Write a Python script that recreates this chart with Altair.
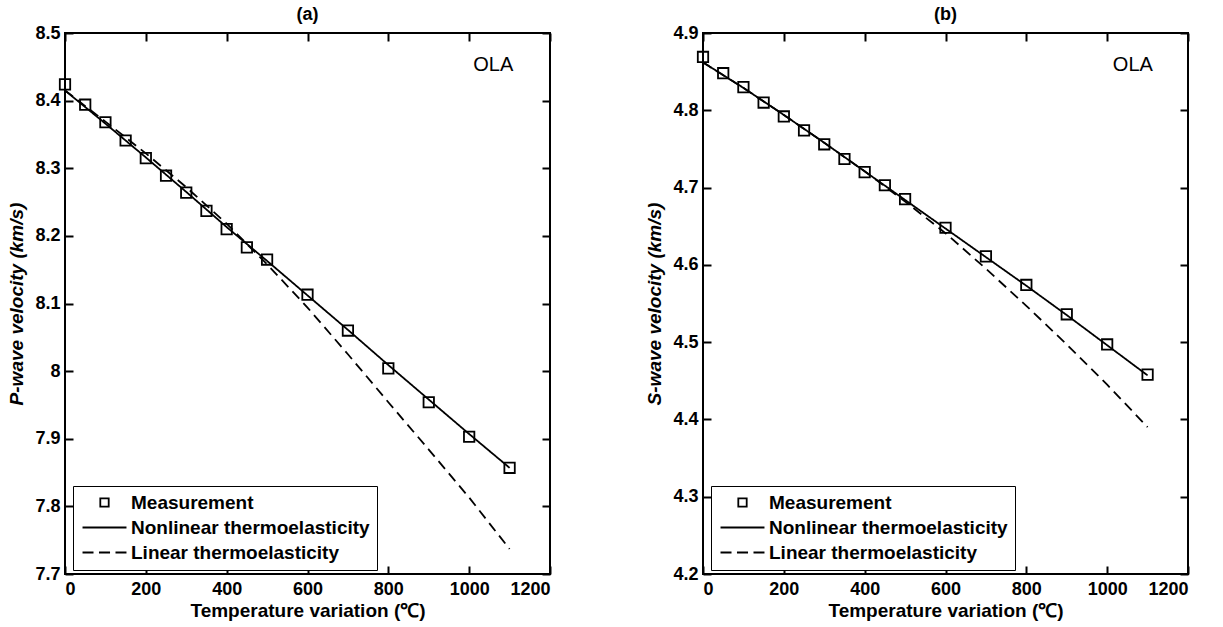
import altair as alt
import pandas as pd

FONT = "Liberation Sans"
W, H = 485, 541

# ---------------- data ----------------
temps_meas = [0, 50, 100, 150, 200, 250, 300, 350, 400, 450, 500, 600, 700, 800, 900, 1000, 1100]
vp_meas = [8.424, 8.394, 8.368, 8.341, 8.315, 8.289, 8.264, 8.237, 8.210, 8.183, 8.165,
           8.113, 8.060, 8.004, 7.954, 7.903, 7.857]
vs_meas = [4.869, 4.848, 4.830, 4.810, 4.792, 4.774, 4.756, 4.737, 4.720, 4.703, 4.685,
           4.648, 4.611, 4.574, 4.536, 4.497, 4.458]

temps_model = [0, 100, 200, 300, 400, 500, 600, 700, 800, 900, 1000, 1100]
vp_nonlinear = [8.415, 8.366, 8.316, 8.265, 8.213, 8.163, 8.112, 8.061, 8.009, 7.958, 7.907, 7.857]
vp_linear = [8.415, 8.369, 8.322, 8.272, 8.218, 8.158, 8.094, 8.025, 7.954, 7.884, 7.813, 7.737]
vs_nonlinear = [4.862, 4.829, 4.794, 4.758, 4.721, 4.684, 4.647, 4.610, 4.573, 4.535, 4.496, 4.457]
vs_linear = [4.862, 4.829, 4.794, 4.758, 4.721, 4.682, 4.641, 4.595, 4.547, 4.497, 4.445, 4.390]

series_names = ["Measurement", "Nonlinear thermoelasticity", "Linear thermoelasticity"]
x_ticks = [0, 200, 400, 600, 800, 1000, 1200]
ya_ticks = [7.7, 7.8, 7.9, 8.0, 8.1, 8.2, 8.3, 8.4, 8.5]
yb_ticks = [4.2, 4.3, 4.4, 4.5, 4.6, 4.7, 4.8, 4.9]

# legend symbols: small square, solid line, dashed line (unit-scaled paths)
shape_paths = [
    "M-0.6,-0.6H0.6V0.6H-0.6Z",
    "M-3.14,0H3.14",
    "M-3.14,0H-1.57M-0.79,0H0.79M1.57,0H3.14",
]


def panel(meas, nonlin, lin, ydom, yticks, ytitle, ptitle, ola_x, ola_y):
    meas_df = pd.DataFrame({"T": temps_meas, "V": meas, "series": series_names[0]})
    line_df = pd.DataFrame({
        "T": temps_model + temps_model,
        "V": nonlin + lin,
        "series": [series_names[1]] * len(temps_model) + [series_names[2]] * len(temps_model),
    })
    ola_df = pd.DataFrame({"T": [ola_x], "V": [ola_y], "label": ["OLA"]})

    xs = alt.Scale(domain=[0, 1200], nice=False, zero=False)
    ys = alt.Scale(domain=ydom, nice=False, zero=False)
    tick_axis = dict(labels=False, domain=False, grid=False, ticks=True, tickSize=8,
                     tickWidth=2, tickColor="black", title=None)

    lines = alt.Chart(line_df).mark_line(color="black", strokeWidth=1.8).encode(
        x=alt.X("T:Q", scale=xs, axis=alt.Axis(orient="top", offset=-H, values=x_ticks, **tick_axis)),
        y=alt.Y("V:Q", scale=ys, axis=alt.Axis(orient="right", offset=-W, values=yticks, **tick_axis)),
        strokeDash=alt.StrokeDash("series:N",
                                  scale=alt.Scale(domain=series_names[1:], range=[[1, 0], [10, 6]]),
                                  legend=None),
    )

    points = alt.Chart(meas_df).mark_point(filled=False, color="black", size=300,
                                           strokeWidth=1.8, opacity=1).encode(
        x=alt.X("T:Q", scale=xs, axis=alt.Axis(
            orient="bottom", values=x_ticks, format="d", ticks=False, domain=False, grid=False,
            labelPadding=6, title="Temperature variation (℃)", titlePadding=3, titleFontSize=19)),
        y=alt.Y("V:Q", scale=ys, axis=alt.Axis(
            orient="left", values=yticks, format=".1~f", ticks=False, domain=False, grid=False,
            labelPadding=5, title=ytitle, titlePadding=8, titleFontSize=19,
            titleFontStyle="italic")),
        shape=alt.Shape("series:N",
                        scale=alt.Scale(domain=series_names, range=shape_paths),
                        legend=alt.Legend(
                            title=None, orient="none", legendX=8, legendY=453,
                            strokeColor="black", fillColor="white", padding=7,
                            rowPadding=5, symbolSize=196, symbolOffset=15, labelOffset=17,
                            symbolStrokeWidth=1.8, symbolStrokeColor="black",
                            labelFont=FONT, labelFontSize=19, labelFontWeight="bold",
                            labelColor="black", labelLimit=500)),
    )

    ola = alt.Chart(ola_df).mark_text(font=FONT, fontSize=20, align="left",
                                      baseline="middle", color="black").encode(
        x=alt.X("T:Q", scale=xs, axis=alt.Axis(orient="bottom", offset=-H, values=x_ticks, **tick_axis)),
        y=alt.Y("V:Q", scale=ys, axis=alt.Axis(orient="left", offset=-W, values=yticks, **tick_axis)),
        text="label:N",
    )

    return alt.layer(lines, points, ola).resolve_axis(
        x="independent", y="independent"
    ).properties(
        width=W, height=H,
        title=alt.Title(ptitle, font=FONT, fontSize=18, fontWeight="bold", color="black",
                        offset=0, anchor="middle"),
    )


pa = panel(vp_meas, vp_nonlinear, vp_linear, [7.7, 8.5], ya_ticks,
           "P-wave velocity (km/s)", "(a)", 1010, 8.452)
pb = panel(vs_meas, vs_nonlinear, vs_linear, [4.2, 4.9], yb_ticks,
           "S-wave velocity (km/s)", "(b)", 1014, 4.859)

chart = alt.hconcat(pa, pb, spacing=153, bounds="flush").resolve_scale(
    shape="independent", strokeDash="independent"
).resolve_legend(
    shape="independent"
).properties(
    padding={"left": 6, "top": 5, "right": 5, "bottom": 2},
    background="white",
).configure_view(
    stroke="black", strokeWidth=2
).configure_axis(
    labelFont=FONT, labelFontSize=18, labelFontWeight="bold", labelColor="black",
    titleFont=FONT, titleFontSize=18, titleFontWeight="bold", titleColor="black",
)

chart.save("out.html", embed_options={"renderer": "svg", "actions": False})
